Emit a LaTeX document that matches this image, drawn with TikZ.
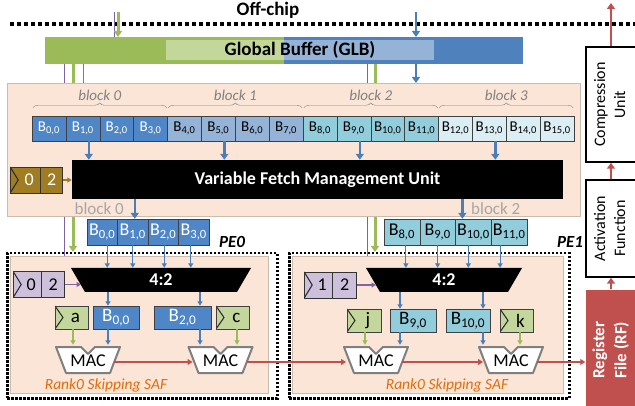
\documentclass[tikz,border=0pt]{standalone}
\usepackage{fontspec}
\setmainfont{Carlito}
\usepackage{graphicx}
\usetikzlibrary{calc,arrows.meta,decorations.pathreplacing,positioning}
\definecolor{GlbGreen}{HTML}{9BBB59}
\definecolor{GlbLGreen}{HTML}{C4D79B}
\definecolor{GlbBlue}{HTML}{4F81BD}
\definecolor{GlbLBlue}{HTML}{95B3D7}
\definecolor{Peach}{HTML}{FBE5D6}
\definecolor{PeachLine}{HTML}{CDBBAE}
\definecolor{BlkA}{HTML}{4E86C8}
\definecolor{BlkB}{HTML}{95B3D7}
\definecolor{BlkC}{HTML}{92CDDC}
\definecolor{BlkD}{HTML}{DBEEF4}
\definecolor{ArrBlue}{HTML}{4A7EBB}
\definecolor{RegBrown}{HTML}{A07C22}
\definecolor{RegPurple}{HTML}{CCC0DA}
\definecolor{LinePurple}{HTML}{8064A2}
\definecolor{RegGreen}{HTML}{C3D69B}
\definecolor{RfRed}{HTML}{C0504D}
\definecolor{SafOrange}{HTML}{E36C0A}
\definecolor{MacGray}{HTML}{7F7F7F}
\pgfdeclarelayer{bg}
\pgfsetlayers{bg,main}
\tikzset{
    glbpart/.style = {rectangle, inner sep=0pt, minimum height=27pt, anchor=north west},
    region/.style = {draw=PeachLine, fill=Peach, rectangle, inner sep=0pt, anchor=north west},
    pebox/.style = {draw, line width=2.5pt, dash pattern=on 2.5pt off 1.5pt,
        rectangle, inner sep=0pt, anchor=north west},
    bcell/.style = {draw=black!75, rectangle, inner sep=0pt,
        minimum height=25pt, minimum width=33.875pt, font=\fontsize{15}{15}\selectfont},
    pcell/.style = {draw=black!75, rectangle, inner sep=0pt,
        minimum height=26pt, font=\fontsize{18}{18}\selectfont},
    qcell/.style = {draw=black!75, rectangle, inner sep=0pt,
        minimum height=23pt, font=\fontsize{19}{19}\selectfont},
    reg/.style = {draw=black!80, rectangle, inner sep=0pt,
        minimum height=26pt, font=\fontsize{18}{18}\selectfont},
    chev/.style = {path picture={\draw[black!85, line width=1pt]
        (path picture bounding box.north west) -- ([xshift=8pt]path picture bounding box.west)
        -- (path picture bounding box.south west);}},
    vfmbox/.style = {rectangle, fill=black, text=white, inner sep=0pt,
        font=\bfseries\fontsize{18}{18}\selectfont},
    muxbox/.style = {rectangle, fill=Peach, inner sep=0pt, minimum height=24pt, text=white,
        font=\bfseries\fontsize{18}{18}\selectfont,
        path picture={\fill[black] (path picture bounding box.north west)
        -- (path picture bounding box.north east)
        -- ([xshift=-14pt]path picture bounding box.south east)
        -- ([xshift=14pt]path picture bounding box.south west) -- cycle;}},
    macbox/.style = {rectangle, fill=Peach, inner sep=0pt, minimum width=68pt,
        minimum height=32pt, font=\fontsize{18}{18}\selectfont,
        path picture={\draw[MacGray, line width=2pt, fill=white, line join=round]
        ($(path picture bounding box.center)+(-32,-14)$) -- ++(25,0) -- ++(7,7) -- ++(7,-7) -- ++(25,0)
        -- ($(path picture bounding box.center)+(22,12)$)
        -- ($(path picture bounding box.center)+(-22,12)$) -- cycle;}},
    sidebox/.style = {draw, line width=1.5pt, rectangle, inner sep=0pt,
        minimum width=50pt, font=\fontsize{16}{20}\selectfont},
    barrow/.style = {ArrBlue, line width=2.5pt, -{Triangle[width=8pt,length=6pt]}},
    tarrow/.style = {line width=1.2pt, -{Triangle[width=5pt,length=4.5pt]}},
    rarrow/.style = {RfRed, line width=1.5pt, -{Triangle[width=6pt,length=5pt]}},
    sarrow/.style = {RfRed, line width=2.5pt, -{Triangle[width=8pt,length=6pt]}},
    blklbl/.style = {text=gray, inner sep=0pt, font=\itshape\fontsize{15}{15}\selectfont},
    sellbl/.style = {text=black!35, inner sep=0pt, font=\fontsize{17}{17}\selectfont},
    pelbl/.style = {font=\bfseries\itshape\fontsize{17}{17}\selectfont},
    saflbl/.style = {text=SafOrange, font=\itshape\fontsize{15.5}{15.5}\selectfont}
}

\begin{document}
\begin{tikzpicture}[x=1pt, y=-1pt]
\useasboundingbox (0,0) rectangle (635,406);

% off-chip boundary
\node[font=\bfseries\fontsize{19}{19}\selectfont] (offchip) at (268,10) {Off-chip};
\draw[line width=3.5pt, dash pattern=on 4pt off 3pt] (10,24) -- (640,24);

% global buffer
\node[glbpart, fill=GlbGreen, minimum width=239pt] (glbg) at (45,37) {};
\node[glbpart, fill=GlbBlue, minimum width=239pt] (glbb) at (284,37) {};
\fill[GlbLGreen] (166,40) rectangle (284,60);
\fill[GlbLBlue] (284,40) rectangle (434,60);
\node[font=\bfseries\fontsize{19}{19}\selectfont] (glbtxt) at (300,50) {Global Buffer (GLB)};

\coordinate (inP) at (114,12);
\coordinate (inG) at (118,12);
\coordinate (inB) at (416,12);
\draw[LinePurple, line width=1pt] (inP) -- (inP |- glbg.north);
\draw[GlbGreen, line width=3pt, -{Triangle[width=8pt,length=6pt]}] (inG) -- (inG |- glbg.north);
\draw[barrow] (inB) -- (inB |- glbb.north);

% blocks of B
\node[region, minimum width=573pt, minimum height=133pt] (blkarea) at (7,83) {};
\draw[barrow] ([xshift=132pt]glbb.south west) -- ([xshift=132pt]glbb.south west |- blkarea.north);
\foreach \blk/\col/\txt in {0/BlkA/white,1/BlkB/black,2/BlkC/black,3/BlkD/black}{
    \foreach \j in {0,...,3}{
        \pgfmathtruncatemacro\k{4*\blk+\j}
        \node[bcell, fill=\col, text=\txt] (b\k) at ({32+33.875*(\k+0.5)},128.5) {B\textsubscript{\k,0}};
    }
    \pgfmathtruncatemacro\bfirst{4*\blk}
    \pgfmathtruncatemacro\blast{4*\blk+3}
    \draw[gray, decorate, decoration={brace, amplitude=5pt}]
        ([xshift=1pt, yshift=8pt]b\bfirst.north west) -- ([xshift=-1pt, yshift=8pt]b\blast.north east)
        node[blklbl, midway, above=7pt] (blk\blk) {block \blk};
}

% fetch unit
\node[vfmbox, minimum width=491pt, minimum height=39pt] (vfmu) at (317.5,179.5) {Variable Fetch Management Unit};
\foreach \k in {1,5,9,13}
    \draw[barrow] ([xshift=6pt]b\k.south) -- ([xshift=6pt]b\k.south |- vfmu.north);
\node[reg, chev, fill=RegBrown, text=white, minimum width=30pt, anchor=west] (br0) at (10,180) {\hspace*{8pt}0};
\node[reg, fill=RegBrown, text=white, minimum width=22pt, anchor=west] (br1) at (br0.east) {2};
\draw[tarrow, RegBrown] (br1.east) -- (br1.east -| vfmu.west);

% PE0
\node[pebox, minimum width=270pt, minimum height=145pt] (pe0) at (6,252) {};
\node[region, minimum width=258pt, minimum height=137pt] (pe0in) at (10,256) {};
\node[pelbl] (pe0lbl) at (232,242) {PE0};
\foreach \k in {0,...,3}
    \node[pcell, fill=BlkA, text=white, minimum width=30.5pt] (p0in\k) at ({87+30.5*(\k+0.5)},232) {B\textsubscript{\k,0}};
\node[sellbl, anchor=east] (sel0) at (124,209) {block 0};
\draw[barrow] ([xshift=2pt]p0in1.north |- vfmu.south) -- ([xshift=2pt]p0in1.north);
\node[muxbox, minimum width=180pt] (mux0) at (161,280) {4:2};
\foreach \k/\dx in {0/5,1/0,2/1,3/-3}
    \draw[tarrow, ArrBlue] ([xshift=\dx pt]p0in\k.south) -- ([xshift=\dx pt]p0in\k.south |- mux0.north);
\node[reg, chev, fill=RegPurple, minimum width=28pt, anchor=west] (pr0a) at (13,284.5) {\hspace*{8pt}0};
\node[reg, fill=RegPurple, minimum width=23pt, anchor=west] (pr0b) at (pr0a.east) {2};
\draw[tarrow, LinePurple] (pr0b.east) -- ($(pr0b.east -| mux0.center)+(-80,0)$);
\node[qcell, chev, fill=RegGreen, minimum width=33pt] (ga) at (71.5,317.5) {\hspace*{8pt}a};
\node[qcell, fill=BlkA, text=white, minimum width=46pt] (pb0) at (116,317.5) {B\textsubscript{0,0}};
\node[qcell, fill=BlkA, text=white, minimum width=57pt] (pb1) at (182.5,317.5) {B\textsubscript{2,0}};
\node[qcell, chev, fill=RegGreen, minimum width=33pt] (gc) at (232.5,317.5) {\hspace*{8pt}c};
\draw[tarrow, ArrBlue] ([xshift=-8pt]pb0.north |- mux0.south) -- ([xshift=-8pt]pb0.north);
\draw[tarrow, ArrBlue] ([xshift=17.5pt]pb1.north |- mux0.south) -- ([xshift=17.5pt]pb1.north);
\node[macbox] (mac0a) at (88,361) {MAC};
\node[macbox] (mac0b) at (220.5,361) {MAC};
\draw[tarrow, GlbGreen] ([xshift=1.5pt]ga.south) -- ([xshift=1.5pt]ga.south |- mac0a.north);
\draw[tarrow, ArrBlue] ([xshift=-8pt]pb0.south) -- ([xshift=-8pt]pb0.south |- mac0a.north);
\draw[tarrow, ArrBlue] ([xshift=17.5pt]pb1.south) -- ([xshift=17.5pt]pb1.south |- mac0b.north);
\draw[tarrow, GlbGreen] ([xshift=4.5pt]gc.south) -- ([xshift=4.5pt]gc.south |- mac0b.north);
\node[saflbl] (saf0) at (106,385) {Rank0 Skipping SAF};

% PE1
\node[pebox, minimum width=280pt, minimum height=145pt] (pe1) at (288,252) {};
\node[region, minimum width=271pt, minimum height=137pt] (pe1in) at (292,256) {};
\node[pelbl] (pe1lbl) at (570,242) {PE1};
\foreach \k in {0,...,3}{
    \pgfmathtruncatemacro\n{\k+8}
    \node[pcell, fill=BlkC, minimum width=35.75pt] (p1in\k) at ({384+35.75*(\k+0.5)},232) {B\textsubscript{\n,0}};
}
\node[sellbl, anchor=west] (sel2) at (471,209) {block 2};
\draw[barrow] ([xshift=-11pt]p1in2.north |- vfmu.south) -- ([xshift=-11pt]p1in2.north);
\node[muxbox, minimum width=156pt] (mux1) at (444,280) {4:2};
\foreach \k/\dx in {0/4,1/0,2/-5,3/-9}
    \draw[tarrow, ArrBlue] ([xshift=\dx pt]p1in\k.south) -- ([xshift=\dx pt]p1in\k.south |- mux1.north);
\node[reg, chev, fill=RegPurple, minimum width=28pt, anchor=west] (pr1a) at (304,285) {\hspace*{8pt}1};
\node[reg, fill=RegPurple, minimum width=24pt, anchor=west] (pr1b) at (pr1a.east) {2};
\draw[tarrow, LinePurple] (pr1b.east) -- ($(pr1b.east -| mux1.center)+(-68,0)$);
\node[qcell, chev, fill=RegGreen, minimum width=34pt] (gj) at (364,320.5) {\hspace*{8pt}j};
\node[qcell, fill=BlkC, minimum width=46pt] (pb2) at (413,320.5) {B\textsubscript{9,0}};
\node[qcell, fill=BlkC, minimum width=44pt] (pb3) at (468,320.5) {B\textsubscript{10,0}};
\node[qcell, chev, fill=RegGreen, minimum width=33pt] (gk) at (516.5,320.5) {\hspace*{8pt}k};
\draw[tarrow, ArrBlue] ([xshift=-13pt]pb2.north |- mux1.south) -- ([xshift=-13pt]pb2.north);
\draw[tarrow, ArrBlue] ([xshift=15pt]pb3.north |- mux1.south) -- ([xshift=15pt]pb3.north);
\node[macbox] (mac1a) at (376,361) {MAC};
\node[macbox] (mac1b) at (511,361) {MAC};
\draw[tarrow, GlbGreen] ([xshift=1pt]gj.south) -- ([xshift=1pt]gj.south |- mac1a.north);
\draw[tarrow, ArrBlue] ([xshift=-13pt]pb2.south) -- ([xshift=-13pt]pb2.south |- mac1a.north);
\draw[tarrow, ArrBlue] ([xshift=15pt]pb3.south) -- ([xshift=15pt]pb3.south |- mac1b.north);
\draw[tarrow, GlbGreen] ([xshift=3.5pt]gk.south) -- ([xshift=3.5pt]gk.south |- mac1b.north);
\node[saflbl] (saf1) at (447,385) {Rank0 Skipping SAF};

% output side
\node[sidebox, minimum height=115pt] (comp) at (611,104.5)
    {\rotatebox{90}{\begin{tabular}{@{}c@{}}Compression\\Unit\end{tabular}}};
\node[sidebox, minimum height=97pt] (act) at (611,228.5)
    {\rotatebox{90}{\begin{tabular}{@{}c@{}}Activation\\Function\end{tabular}}};
\node[sidebox, draw=none, fill=RfRed, text=white, font=\bfseries\fontsize{17}{22}\selectfont,
    minimum height=120pt] (rf) at (611,350)
    {\rotatebox{90}{\begin{tabular}{@{}c@{}}Register\\File (RF)\end{tabular}}};
\coordinate (outTop) at (611,3);
\draw[sarrow] (rf.north) -- (act.south);
\draw[sarrow] (act.north) -- (comp.south);
\draw[sarrow] (comp.north) -- (outTop);

% partial sums
\coordinate (m0out) at ($(mac0a.center)+(26,1)$);
\coordinate (m1out) at ($(mac0b.center)+(26,1)$);
\coordinate (m2out) at ($(mac1a.center)+(26,1)$);
\coordinate (m3out) at ($(mac1b.center)+(26,1)$);
\draw[rarrow] (m0out) -- ($(mac0b.center)+(-28,1)$);
\draw[rarrow] (m1out) -- ($(mac1a.center)+(-30,1)$);
\draw[rarrow] (m2out) -- ($(mac1b.center)+(-28,1)$);
\draw[rarrow] (m3out) -- (m3out -| rf.west);

\begin{pgfonlayer}{bg}
    \draw[LinePurple, line width=1pt] ([xshift=19pt]glbg.south west) -- ([xshift=19pt]glbg.south west |- pe0in.north);
    \draw[GlbGreen, line width=3pt, -{Triangle[width=8pt,length=6pt]}]
        ([xshift=28pt]glbg.south west) -- ([xshift=28pt]glbg.south west |- pe0.north);
    \draw[RegBrown, line width=1pt] ([xshift=38pt]glbg.south west) -- ([xshift=38pt]glbg.south west |- blkarea.north);
    \draw[LinePurple, line width=1pt] ([xshift=83pt]glbb.south west) -- ([xshift=83pt]glbb.south west |- pe1in.north);
    \draw[GlbGreen, line width=3pt, -{Triangle[width=8pt,length=6pt]}]
        ([xshift=91pt]glbb.south west) -- ([xshift=91pt]glbb.south west |- pe1.north);
\end{pgfonlayer}
\end{tikzpicture}
\end{document}
